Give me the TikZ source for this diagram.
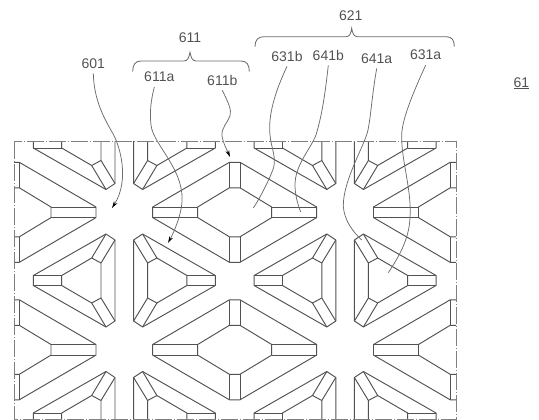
\documentclass[tikz,border=0pt]{standalone}
\usepackage{fontspec}
\setmainfont{Liberation Sans}
\usetikzlibrary{arrows.meta}
\tikzstyle{cell}=[draw=black!68, line width=0.95pt, line join=round]
\tikzstyle{frameline}=[draw=black!50, line width=1pt, dash pattern=on 17pt off 2pt on 1pt off 2pt]
\tikzstyle{numlabel}=[inner sep=5pt, text=black!68, font=\fontsize{14}{16}\selectfont]
\tikzstyle{leader}=[draw=black!58, line width=0.75pt]
\tikzstyle{leadertip}=[leader, -{Stealth[length=7pt,width=4pt,black]}]
\tikzstyle{bracket}=[draw=black!58, line width=0.85pt]
% six-armed rhombus cell: centre x, centre y
\newcommand{\rhombuscell}[2]{%
  \begin{scope}[shift={(#1,#2)}]
    \path[cell] (-82,-5.3) -- (-5.3,-50) -- (5.3,-50) -- (82,-5.3) -- (82,5.3)
      -- (5.3,50) -- (-5.3,50) -- (-82,5.3) -- cycle;
    \path[cell] (-37,-5.3) -- (-5.3,-24.5) -- (5.3,-24.5) -- (37,-5.3) -- (37,5.3)
      -- (5.3,24.5) -- (-5.3,24.5) -- (-37,5.3) -- cycle;
    \path[cell] (-82,-5.3) -- (-37,-5.3) (-82,5.3) -- (-37,5.3);
    \path[cell] (82,-5.3) -- (37,-5.3) (82,5.3) -- (37,5.3);
    \path[cell] (-5.3,-50) -- (-5.3,-24.5) (5.3,-50) -- (5.3,-24.5);
    \path[cell] (-5.3,50) -- (-5.3,24.5) (5.3,50) -- (5.3,24.5);
  \end{scope}}
% three-armed cell: arm end x, centre y, facing (1 or -1)
\newcommand{\trianglecell}[3]{%
  \begin{scope}[shift={(#1,#2)}, xscale=#3]
    \path[cell] (0,-5) -- (72.7,-46.5) -- (81.7,-40.5) -- (81.7,40.5)
      -- (72.7,46.5) -- (0,5) -- cycle;
    \path[cell] (28.4,-5) -- (58.4,-22.5) -- (67.7,-17.5) -- (67.7,17.5)
      -- (58.4,22.5) -- (28.4,5) -- cycle;
    \path[cell] (0,-5) -- (28.4,-5) (0,5) -- (28.4,5);
    \path[cell] (58.4,-22.5) -- (72.7,-46.5) (67.7,-17.5) -- (81.7,-40.5);
    \path[cell] (58.4,22.5) -- (72.7,46.5) (67.7,17.5) -- (81.7,40.5);
  \end{scope}}

\begin{document}
\begin{tikzpicture}[x=1pt,y=-1pt]
  \useasboundingbox (0,0) rectangle (539,420);

  % Draw pattern
  \begin{scope}
    \clip (14,142) rectangle (456,419);
    % Rhombus cells
    \rhombuscell{14}{212.3}
    \rhombuscell{234.7}{212.3}
    \rhombuscell{455.5}{212.3}
    \rhombuscell{14}{349.8}
    \rhombuscell{234.7}{349.8}
    \rhombuscell{455.5}{349.8}
    % Triangle cells
    \trianglecell{33.3}{143}{1}
    \trianglecell{215.3}{143}{-1}
    \trianglecell{254.1}{143}{1}
    \trianglecell{436.1}{143}{-1}
    \trianglecell{33.3}{280.5}{1}
    \trianglecell{215.3}{280.5}{-1}
    \trianglecell{254.1}{280.5}{1}
    \trianglecell{436.1}{280.5}{-1}
    \trianglecell{33.3}{418}{1}
    \trianglecell{215.3}{418}{-1}
    \trianglecell{254.1}{418}{1}
    \trianglecell{436.1}{418}{-1}
  \end{scope}

  % Frame
  \path[frameline] (14,142) rectangle (456,419);

  % Labels
  \node (l611) [numlabel] at (190,37.7) {611};
  \node (l621) [numlabel] at (350.7,15.7) {621};
  \node (l601) [numlabel] at (93.3,63.3) {601};
  \node (l611a) [numlabel] at (159.3,76.7) {611a};
  \node (l611b) [numlabel] at (222.3,80) {611b};
  \node (l631b) [numlabel] at (287,56) {631b};
  \node (l641b) [numlabel] at (328.3,55) {641b};
  \node (l641a) [numlabel] at (376.7,58.3) {641a};
  \node (l631a) [numlabel] at (425.7,55) {631a};
  \node (l61) [numlabel] at (521.3,83.3) {\underline{61}};

  % Leader ends
  \coordinate (t601) at (112,208);
  \coordinate (t611a) at (168,243);
  \coordinate (t611b) at (230,157);
  \coordinate (t631b) at (253.3,208);
  \coordinate (t641b) at (300.7,212);
  \coordinate (t641a) at (361.7,240);
  \coordinate (t631a) at (388.3,272.7);

  % Draw leaders
  \path[leadertip] (l601.south) .. controls (94,100) and (104,118) .. (112,132)
    .. controls (120,145) and (130,180) .. (t601);
  \path[leadertip] (l611a.244) .. controls (151,100) and (149.5,112) .. (151,125)
    .. controls (153,145) and (186,170) .. (181.7,205)
    .. controls (180,218) and (174,232) .. (t611a);
  \path[leadertip] (l611b.south) .. controls (228,102) and (232,110) .. (230,116)
    .. controls (228,122) and (221,128) .. (222,136)
    .. controls (223,143) and (227,150) .. (t611b);
  \path[leader] (l631b.south) .. controls (275,92) and (268,115) .. (270,135)
    .. controls (271,148) and (278,160) .. (272,172)
    .. controls (268,182) and (260,198) .. (t631b);
  \path[leader] (l641b.south) .. controls (325,95) and (322,115) .. (316,135)
    .. controls (310,150) and (295,165) .. (295,185)
    .. controls (295,195) and (298,205) .. (t641b);
  \path[leader] (l641a.south) .. controls (372,95) and (371,115) .. (368,130)
    .. controls (365,145) and (343,180) .. (343.3,206)
    .. controls (344,220) and (353,232) .. (t641a);
  \path[leader] (l631a.south) .. controls (412,95) and (402,120) .. (401.7,135)
    .. controls (401,160) and (412,190) .. (410,218)
    .. controls (409,240) and (398,258) .. (t631a);

  % Draw brackets
  \coordinate (b611) at (190,52.3);
  \coordinate (b621) at (351.7,28.3);
  \path[bracket] (132.7,71.7) .. controls (132.7,65) and (135,61) .. (141,61)
    -- (184,61) .. controls (188,61) and (189,57) .. (b611)
    .. controls (191,57) and (192,61) .. (196,61)
    -- (241,61) .. controls (247,61) and (249.3,65) .. (249.3,71.7);
  \path[bracket] (255,46.7) .. controls (255,40) and (258,36.7) .. (264,36.7)
    -- (346,36.7) .. controls (350,36.7) and (351,33) .. (b621)
    .. controls (352.5,33) and (353.5,36.7) .. (357.5,36.7)
    -- (446,36.7) .. controls (452,36.7) and (454.3,40) .. (454.3,46.7);
\end{tikzpicture}
\end{document}
